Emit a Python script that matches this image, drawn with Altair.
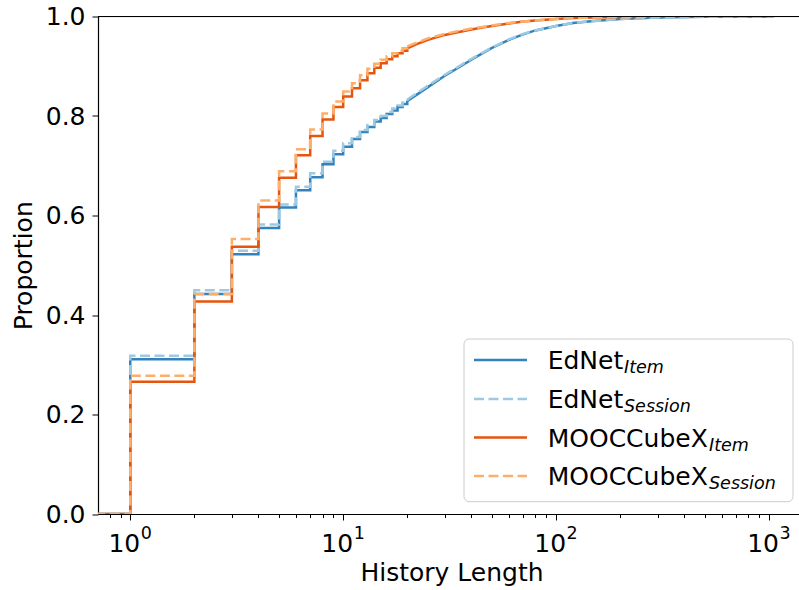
import altair as alt
import pandas as pd

FONT = "DejaVu Sans"

# ---------------- data ----------------
# stepped part of the ECDF: history lengths 1..20 (first entry = start of curve at 0)
head_x = [0.5, 1, 2, 3, 4, 5, 6, 7, 8, 9, 10, 11, 12, 13, 14, 15, 16, 17, 18, 19, 20]
# smooth tail of the ECDF
tail_x = [20, 22, 25, 30, 35, 40, 45, 50, 60, 70, 80, 100, 120, 150, 200, 300, 500, 700, 1050]

ednet_item_head = [0.0, 0.311, 0.442, 0.522, 0.575, 0.616, 0.651, 0.677, 0.703, 0.723, 0.738,
                   0.754, 0.768, 0.778, 0.789, 0.796, 0.804, 0.811, 0.818, 0.824, 0.830]
ednet_item_tail = [0.830, 0.842, 0.858, 0.881, 0.898, 0.913, 0.926, 0.937, 0.953, 0.964,
                   0.972, 0.981, 0.987, 0.991, 0.995, 0.998, 0.9995, 1.0, 1.0]

ednet_session_head = [0.0, 0.318, 0.450, 0.529, 0.582, 0.622, 0.658, 0.685, 0.708, 0.730, 0.745,
                      0.758, 0.772, 0.782, 0.792, 0.800, 0.808, 0.815, 0.821, 0.827, 0.833]
ednet_session_tail = [0.833, 0.845, 0.861, 0.883, 0.900, 0.915, 0.927, 0.938, 0.954, 0.965,
                      0.972, 0.981, 0.987, 0.991, 0.995, 0.998, 0.9995, 1.0, 1.0]

mooc_item_head = [0.0, 0.266, 0.427, 0.537, 0.617, 0.676, 0.721, 0.760, 0.793, 0.818, 0.839,
                  0.856, 0.872, 0.886, 0.897, 0.906, 0.914, 0.920, 0.926, 0.931, 0.936]
mooc_item_tail = [0.936, 0.944, 0.953, 0.963, 0.969, 0.974, 0.978, 0.981, 0.986, 0.990,
                  0.992, 0.995, 0.997, 0.998, 0.999, 0.9995, 1.0, 1.0, 1.0]

mooc_session_head = [0.0, 0.278, 0.442, 0.553, 0.630, 0.689, 0.733, 0.773, 0.805, 0.829, 0.849,
                     0.866, 0.882, 0.895, 0.905, 0.913, 0.920, 0.926, 0.931, 0.936, 0.940]
mooc_session_tail = [0.940, 0.947, 0.956, 0.965, 0.971, 0.976, 0.979, 0.982, 0.987, 0.990,
                     0.992, 0.995, 0.997, 0.998, 0.999, 0.9995, 1.0, 1.0, 1.0]

series_names = ["EdNet_Item", "EdNet_Session", "MOOCCubeX_Item", "MOOCCubeX_Session"]
series_heads = [ednet_item_head, ednet_session_head, mooc_item_head, mooc_session_head]
series_tails = [ednet_item_tail, ednet_session_tail, mooc_item_tail, mooc_session_tail]
series_colors = ["#3182bd", "#9ecae1", "#e6550d", "#fdae6b"]
series_dashed = [False, True, False, True]

legend_main = ["EdNet", "EdNet", "MOOCCubeX", "MOOCCubeX"]
legend_sub = ["Item", "Session", "Item", "Session"]

x_major = [1, 10, 100, 1000]
x_exps = ["0", "1", "2", "3"]
x_minor = [0.8, 0.9, 2, 3, 4, 5, 6, 7, 8, 9, 20, 30, 40, 50, 60, 70, 80, 90,
           200, 300, 400, 500, 600, 700, 800, 900]
y_ticks = [0.0, 0.2, 0.4, 0.6, 0.8, 1.0]

# ---------------- layout ----------------
W, H = 701, 497.5
PAD_L, PAD_T = 98, 16.5

x_scale = alt.Scale(type="log", domain=[0.7054, 1383], nice=False)
y_scale = alt.Scale(domain=[0, 1], nice=False)

x_axis = alt.Axis(
    values=x_major + x_minor, labels=False, grid=False,
    tickSize={"condition": {"test": "indexof([1, 10, 100, 1000], datum.value) >= 0", "value": 6},
              "value": 3.5},
    tickWidth=1, tickColor="black", domainColor="black", domainWidth=1.2,
    title="History Length", titleFont=FONT, titleFontSize=25, titleFontWeight="normal",
    titleColor="black", titleX=W / 2 + 3, titleY=66, titleAlign="center",
    titleBaseline="alphabetic", titleAnchor="start",
)
y_axis = alt.Axis(
    values=y_ticks, format=".1f", grid=False, labelFont=FONT, labelFontSize=25,
    labelColor="black", labelPadding=7, tickSize=6, tickWidth=1, tickColor="black",
    domainColor="black", domainWidth=1.2,
    title="Proportion", titleFont=FONT, titleFontSize=25, titleFontWeight="normal",
    titleColor="black", titleAngle=270, titleX=-67, titleY=H / 2, titleAlign="center",
    titleBaseline="alphabetic", titleAnchor="start",
)

layers = []
for name, head, tail, color, dashed in zip(series_names, series_heads, series_tails,
                                            series_colors, series_dashed):
    for part, xs, ps, interp in (("head", head_x, head, "step-after"),
                                 ("tail", tail_x, tail, "linear")):
        df = pd.DataFrame({"x": xs, "p": ps, "series": name})
        mk = dict(interpolate=interp, color=color, strokeWidth=2.5, clip=True)
        if dashed:
            mk["strokeDash"] = [10, 4.5]
        layers.append(
            alt.Chart(df).mark_line(**mk).encode(
                x=alt.X("x:Q", scale=x_scale, axis=x_axis),
                y=alt.Y("p:Q", scale=y_scale, axis=y_axis),
                order="x:Q",
            )
        )

# top spine
one = pd.DataFrame({"a": [0]})
layers.append(alt.Chart(one).mark_rule(color="black", strokeWidth=1.2).encode(
    x=alt.value(0), x2=alt.value(W), y=alt.value(0)))

# x tick labels 10^k drawn through the x scale
tick_df = pd.DataFrame({"v": x_major, "base": ["10"] * len(x_major), "e": x_exps})
layers.append(alt.Chart(tick_df).mark_text(
    font=FONT, fontSize=25, align="right", baseline="alphabetic", dx=10, color="black"
).encode(x=alt.X("v:Q", scale=x_scale, axis=x_axis), y=alt.value(552 - PAD_T), text="base:N"))
layers.append(alt.Chart(tick_df).mark_text(
    font=FONT, fontSize=17.5, align="left", baseline="alphabetic", dx=10.5, color="black"
).encode(x=alt.X("v:Q", scale=x_scale, axis=x_axis), y=alt.value(539 - PAD_T), text="e:N"))

# legend
LX0, LX1, LY0, LY1 = 464 - PAD_L, 793 - PAD_L, 339 - PAD_T, 501.7 - PAD_T
layers.append(alt.Chart(one).mark_rect(
    fill="white", fillOpacity=0.8, stroke="#cccccc", strokeWidth=1, cornerRadius=5
).encode(x=alt.value(LX0), x2=alt.value(LX1), y=alt.value(LY0), y2=alt.value(LY1)))

row_line_y = [360, 399, 437.5, 476]
row_base_y = [369.3, 408, 446.5, 485]
sub_x = [624, 624, 709, 709]
for i in range(4):
    mk = dict(color=series_colors[i], strokeWidth=2.5)
    if series_dashed[i]:
        mk["strokeDash"] = [10, 4.5]
    layers.append(alt.Chart(one).mark_rule(**mk).encode(
        x=alt.value(474 - PAD_L), x2=alt.value(527 - PAD_L), y=alt.value(row_line_y[i] - PAD_T)))
    layers.append(alt.Chart(pd.DataFrame({"t": [legend_main[i]]})).mark_text(
        font=FONT, fontSize=25, align="left", baseline="alphabetic", color="black"
    ).encode(x=alt.value(547.7 - PAD_L), y=alt.value(row_base_y[i] - PAD_T), text="t:N"))
    layers.append(alt.Chart(pd.DataFrame({"t": [legend_sub[i]]})).mark_text(
        font=FONT, fontSize=17.5, fontStyle="italic", align="left", baseline="alphabetic",
        color="black"
    ).encode(x=alt.value(sub_x[i] - PAD_L), y=alt.value(row_base_y[i] + 4 - PAD_T), text="t:N"))

chart = alt.layer(*layers).properties(
    width=W, height=H,
    padding={"left": PAD_L, "top": PAD_T, "right": 0, "bottom": 590 - PAD_T - H - 1},
    autosize=alt.AutoSizeParams(type="none"),
).configure_view(stroke=None).configure(font=FONT, background="white")

chart.save("out.html", embed_options={"renderer": "svg", "actions": False})
